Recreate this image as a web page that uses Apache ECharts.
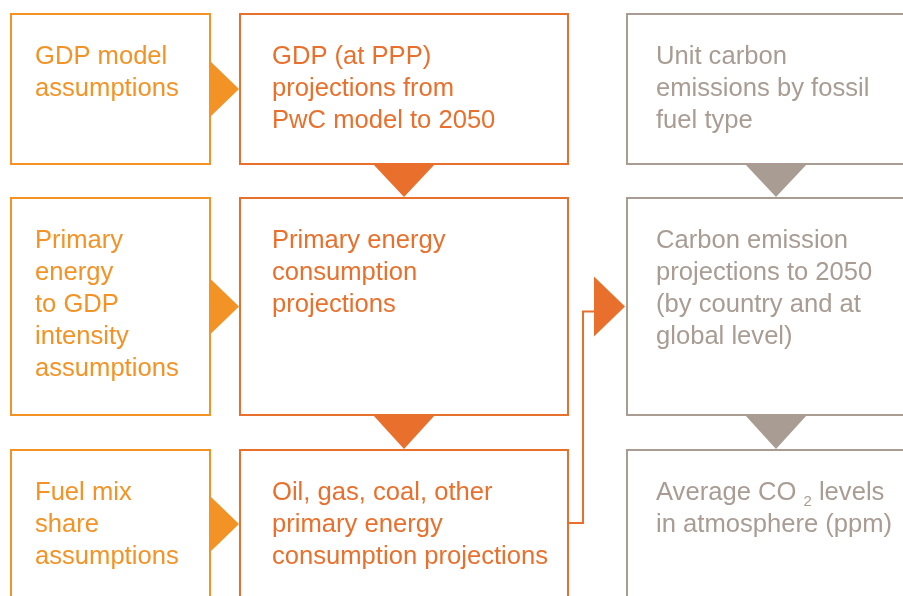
<!DOCTYPE html>
<html>
<head>
<meta charset="utf-8">
<script src="https://cdn.jsdelivr.net/npm/echarts@6/dist/echarts.min.js"></script>
<style>
    html, body { margin: 0; padding: 0; background: #fff; }
    #chart { width: 903px; height: 596px; }
</style>
</head>
<body>
<div id="chart"></div>
<script>
    // box texts, read row by row (left, middle, right column)
    var boxLabels = [
        'GDP model\nassumptions',
        'GDP (at PPP)\nprojections from\nPwC model to 2050',
        'Unit carbon\nemissions by fossil\nfuel type',
        'Primary\nenergy\nto GDP\nintensity\nassumptions',
        'Primary energy\nconsumption\nprojections',
        'Carbon emission\nprojections to 2050\n(by country and at\nglobal level)',
        'Fuel mix\nshare\nassumptions',
        'Oil, gas, coal, other\nprimary energy\nconsumption projections',
        'Average CO {sub|2} levels\nin atmosphere (ppm)'
    ];
    var boxCol = [0, 1, 2, 0, 1, 2, 0, 1, 2];
    var boxRow = [0, 0, 0, 1, 1, 1, 2, 2, 2];
    // arrows: [from box, to box]
    var links = [[0, 1], [3, 4], [6, 7], [1, 4], [4, 7], [2, 5], [5, 8], [7, 5]];

    // layout (pixel units on hidden axes)
    var colX = [[11, 210], [240, 568], [627, 925]];
    var rowY = [[14, 164], [198, 415], [450, 598]];
    var textPad = [24, 32, 29];
    var colColors = ['#f39326', '#e9702c', '#a89c93'];

    function mid(r) { return (r[0] + r[1]) / 2; }

    function renderBox(params, api) {
        var i = api.value(0);
        var c = boxCol[i], r = boxRow[i];
        var p0 = api.coord([colX[c][0], rowY[r][0]]);
        var p1 = api.coord([colX[c][1], rowY[r][1]]);
        return {
            type: 'group',
            children: [{
                type: 'rect',
                shape: { x: p0[0], y: p0[1], width: p1[0] - p0[0], height: p1[1] - p0[1] },
                style: { fill: 'none', stroke: colColors[c], lineWidth: 2 }
            }, {
                type: 'text',
                style: {
                    text: boxLabels[i],
                    x: p0[0] + textPad[c],
                    y: p0[1] + 27,
                    fill: colColors[c],
                    fontFamily: 'Liberation Sans',
                    fontSize: 25.6,
                    lineHeight: 32,
                    verticalAlign: 'top',
                    rich: {
                        sub: { fontSize: 15, lineHeight: 26, verticalAlign: 'bottom', fill: colColors[c], fontFamily: 'Liberation Sans' }
                    }
                }
            }]
        };
    }

    function renderLink(params, api) {
        var l = links[api.value(0)];
        var ca = boxCol[l[0]], ra = boxRow[l[0]];
        var cb = boxCol[l[1]], rb = boxRow[l[1]];
        var color = colColors[ca];
        var pts, line = null;
        if (ra === rb) {
            var cy = mid(rowY[ra]);
            pts = [[colX[ca][1] - 1, cy - 29], [colX[cb][0] - 1, cy], [colX[ca][1] - 1, cy + 29]];
        } else if (ca === cb) {
            var cx = mid(colX[ca]);
            pts = [[cx - 31, rowY[ra][1]], [cx, rowY[rb][0] - 1], [cx + 31, rowY[ra][1]]];
        } else {
            var ty = mid(rowY[rb]);
            var sx = colX[ca][1], sy = rowY[ra][0] + 73;
            var ex = colX[cb][0] - 33;
            line = [[sx, sy], [sx + 15, sy], [sx + 15, ty + 5], [ex, ty + 5]].map(function (p) { return api.coord(p); });
            pts = [[ex, ty - 30], [colX[cb][0] - 2, ty], [ex, ty + 30]];
        }
        var children = [{
            type: 'polygon',
            shape: { points: pts.map(function (p) { return api.coord(p); }) },
            style: { fill: color }
        }];
        if (line) {
            children.unshift({
                type: 'polyline',
                shape: { points: line },
                style: { fill: 'none', stroke: color, lineWidth: 2 }
            });
        }
        return { type: 'group', children: children };
    }

    var chart = echarts.init(document.getElementById('chart'));
    chart.setOption({
        animation: false,
        grid: { left: 0, right: 0, top: 0, bottom: 0 },
        xAxis: { type: 'value', min: 0, max: 903, show: false },
        yAxis: { type: 'value', min: 0, max: 596, inverse: true, show: false },
        series: [{
            type: 'custom',
            clip: false,
            renderItem: renderLink,
            data: links.map(function (l, i) { return [i, i]; })
        }, {
            type: 'custom',
            clip: false,
            renderItem: renderBox,
            data: boxLabels.map(function (t, i) { return [i, i]; })
        }]
    });
</script>
</body>
</html>
